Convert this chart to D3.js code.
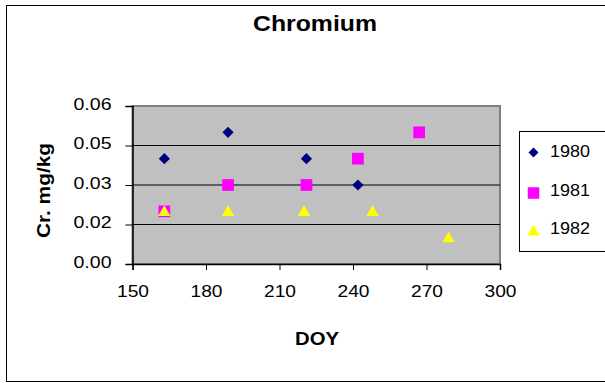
<!DOCTYPE html>
<html><head><meta charset="utf-8">
<script src="https://cdn.jsdelivr.net/npm/d3@7"></script>
<style>
html,body{margin:0;padding:0;background:#fff;}
svg{display:block;}
text{font-family:"Liberation Sans",Arial,sans-serif;fill:#000;}
</style></head>
<body>
<svg id="chart" width="605" height="383"></svg>
<script>
const seriesNames = ["1980", "1981", "1982"];
const doy1980 = [163, 189, 221, 242];
const cr1980  = [0.04, 0.05, 0.04, 0.03];
const doy1981 = [163, 189, 221, 242, 267];
const cr1981  = [0.02, 0.03, 0.03, 0.04, 0.05];
const doy1982 = [163, 189, 220, 248, 279];
const cr1982  = [0.02, 0.02, 0.02, 0.02, 0.01];
const xTicks = [150, 180, 210, 240, 270, 300];
const yTicks = [0, 0.015, 0.03, 0.045, 0.06];
const yTickLabels = ["0.00", "0.02", "0.03", "0.05", "0.06"];
const titleText = "Chromium";
const xTitle = "DOY";
const yTitle = "Cr. mg/kg";

const svg = d3.select("#chart");
const L = 132.5, R = 500, T = 106, B = 264;
const x = d3.scaleLinear().domain([150, 300]).range([L, R]);
const y = d3.scaleLinear().domain([0, 0.06]).range([B, T]);

// outer border
svg.append("rect").attr("x", 6.5).attr("y", 5.5).attr("width", 640).attr("height", 376)
  .attr("fill", "#fff").attr("stroke", "#000").attr("stroke-width", 1);

// plot background
svg.append("rect").attr("x", L).attr("y", T).attr("width", R - L).attr("height", B - T)
  .attr("fill", "#c0c0c0").attr("stroke", "#808080").attr("stroke-width", 2);

// gridlines
svg.append("g").selectAll("line").data(yTicks.slice(1, -1)).join("line")
  .attr("x1", L).attr("x2", R).attr("y1", d => y(d)).attr("y2", d => y(d))
  .attr("stroke", "#000").attr("stroke-width", 1);

// axes
const xAxis = svg.append("g").attr("transform", `translate(0,${B})`)
  .call(d3.axisBottom(x).tickValues(xTicks).tickSize(6).tickPadding(17).tickFormat(d3.format("d")));
xAxis.select(".domain").attr("stroke", "#000").attr("stroke-width", 1.5);
xAxis.selectAll("line").attr("stroke", "#000");
xAxis.selectAll("text").attr("font-size", 17).attr("font-family", "Liberation Sans")
  .attr("textLength", 32).attr("lengthAdjust", "spacingAndGlyphs").attr("dy", "0.6em");

const yAxis = svg.append("g").attr("transform", `translate(${L},0)`)
  .call(d3.axisLeft(y).tickValues(yTicks).tickSize(7).tickPadding(14)
    .tickFormat((d, i) => yTickLabels[i]));
yAxis.select(".domain").attr("stroke", "#000").attr("stroke-width", 1.5);
yAxis.selectAll("line").attr("stroke", "#000");
yAxis.selectAll("text").attr("font-size", 16.5).attr("font-family", "Liberation Sans")
  .attr("textLength", 38).attr("lengthAdjust", "spacingAndGlyphs").attr("dy", "0.2em");

// titles
svg.append("text").attr("x", 315).attr("y", 30.5).attr("text-anchor", "middle")
  .attr("font-size", 21.5).attr("font-weight", "bold")
  .attr("textLength", 124).attr("lengthAdjust", "spacingAndGlyphs").text(titleText);
svg.append("text").attr("x", 317).attr("y", 345).attr("text-anchor", "middle")
  .attr("font-size", 18.5).attr("font-weight", "bold")
  .attr("textLength", 44).attr("lengthAdjust", "spacingAndGlyphs").text(xTitle);
svg.append("text").attr("transform", "translate(50,190.5) rotate(-90)").attr("text-anchor", "middle")
  .attr("font-size", 19).attr("font-weight", "bold")
  .attr("textLength", 95).attr("lengthAdjust", "spacingAndGlyphs").text(yTitle);

// markers
const diamond = d3.symbol().type(d3.symbolDiamond2).size(80);
const square = d3.symbol().type(d3.symbolSquare2).size(175);
const tri = d3.symbol().type(d3.symbolTriangle2).size(110);

const series = [
  {name: seriesNames[0], xs: doy1980, ys: cr1980, sym: diamond, color: "#000080", dy: 0},
  {name: seriesNames[1], xs: doy1981, ys: cr1981, sym: square, color: "#ff00ff", dy: 0},
  {name: seriesNames[2], xs: doy1982, ys: cr1982, sym: tri, color: "#ffff00", dy: 1}
];
series.forEach(s => {
  svg.append("g").selectAll("path").data(s.xs.map((d, i) => [d, s.ys[i]])).join("path")
    .attr("d", s.sym)
    .attr("transform", d => `translate(${x(d[0])},${y(d[1]) + s.dy})`)
    .attr("fill", s.color);
});

// legend
const lg = svg.append("g");
lg.append("rect").attr("x", 519.5).attr("y", 131.5).attr("width", 120).attr("height", 120)
  .attr("fill", "#fff").attr("stroke", "#000").attr("stroke-width", 1);
const legSyms = [
  d3.symbol().type(d3.symbolDiamond2).size(64),
  d3.symbol().type(d3.symbolSquare2).size(170),
  d3.symbol().type(d3.symbolTriangle2).size(110)
];
const legCy = [152.5, 193, 232];
const legBase = [157, 195.5, 234];
series.forEach((s, i) => {
  lg.append("path").attr("d", legSyms[i]).attr("transform", `translate(533.5,${legCy[i]})`).attr("fill", s.color);
  lg.append("text").attr("x", 550).attr("y", legBase[i]).attr("font-size", 16.5)
    .attr("textLength", 40).attr("lengthAdjust", "spacingAndGlyphs").text(s.name);
});
</script>
</body></html>
